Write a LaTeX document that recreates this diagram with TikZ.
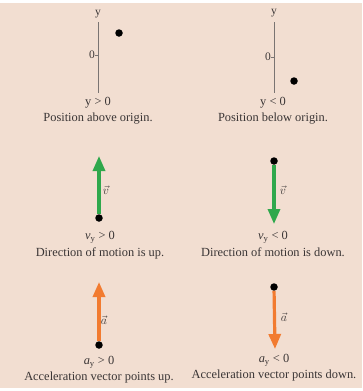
\documentclass[tikz,border=0pt]{standalone}
\usepackage{fontspec}
\setmainfont{Liberation Serif}
\usepackage{xcolor}
\definecolor{kinbg}{HTML}{F2DED1}
\definecolor{kinvel}{HTML}{2FA84C}
\definecolor{kinacc}{HTML}{F27B30}
\definecolor{kintxt}{HTML}{3A3535}
\definecolor{kinaxis}{HTML}{7A7472}
\usetikzlibrary{arrows.meta,positioning}
\tikzset{
  kindot/.style={circle,fill=black,inner sep=0pt,minimum size=7.5pt},
  kinline/.style={draw=kinaxis,line width=0.9pt},
  kinvec/.style={line width=3.2pt,-{Triangle[length=15pt,width=12pt]}},
  kincap/.style={font=\fontsize{12.4}{14}\selectfont,text=kintxt,inner sep=0pt},
  kinsym/.style={font=\fontsize{11.5}{13}\selectfont,text=kintxt,inner sep=0pt},
}
\begin{document}
\begin{tikzpicture}[x=1pt,y=-1pt]
  \useasboundingbox (0,0) rectangle (362,391);
  \fill[kinbg] (0,3) rectangle (362,388);
  % position above / below origin
\node[kinsym] (ya) at (98,14) {y};
\coordinate (ya0) at (98,22);
\coordinate (ya1) at (98,93);
\draw[kinline] (ya0) -- (ya1);
\coordinate (za) at (98,55);
\node[kinsym,left=3pt of za] (zla) {0};
\draw[kinline] (za) -- (zla);
\node[kindot] (pa) at (119,33) {};
\node[kincap] (sa) at (98,103) {y > 0};
\node[kincap,below=4pt of sa] (ca) {Position above origin.};

\node[kinsym] (yb) at (274,13) {y};
\coordinate (yb0) at (274,22);
\coordinate (yb1) at (274,93);
\draw[kinline] (yb0) -- (yb1);
\coordinate (zb) at (274,57);
\node[kinsym,left=3pt of zb] (zlb) {0};
\draw[kinline] (zb) -- (zlb);
\node[kindot] (pb) at (294,81) {};
\node[kincap] (sb) at (273,103) {y < 0};
\node[kincap,below=4pt of sb] (cb) {Position below origin.};
  % velocity
\node[kindot] (va) at (99,218) {};
\coordinate (vta) at (99,156);
\draw[kinvec,kinvel] (va) -- (vta);
\node[kinsym] at (106,190) {$\vec{v}$};
\node[kincap] (sva) at (100,237) {\textit{v}\textsubscript{y} > 0};
\node[kincap,below=4pt of sva] {Direction of motion is up.};

\node[kindot] (vb) at (274,161) {};
\coordinate (vtb) at (274,224);
\draw[kinvec,kinvel] (vb) -- (vtb);
\node[kinsym] at (283,190) {$\vec{v}$};
\node[kincap] (svb) at (273,237) {\textit{v}\textsubscript{y} < 0};
\node[kincap,below=4pt of svb] {Direction of motion is down.};
  % acceleration
\node[kindot] (aa) at (99,345) {};
\coordinate (ata) at (99,282);
\draw[kinvec,kinacc] (aa) -- (ata);
\node[kinsym] at (104,320) {$\vec{a}$};
\node[kincap] (saa) at (99,362) {\textit{a}\textsubscript{y} > 0};
\node[kincap,below=4pt of saa] {Acceleration vector points up.};

\node[kindot] (ab) at (274,287) {};
\coordinate (atb) at (275,349);
\draw[kinvec,kinacc] (ab) -- (atb);
\node[kinsym] at (284,317) {$\vec{a}$};
\node[kincap] (sab) at (274,360) {\textit{a}\textsubscript{y} < 0};
\node[kincap,below=4pt of sab] {Acceleration vector points down.};
\end{tikzpicture}
\end{document}
